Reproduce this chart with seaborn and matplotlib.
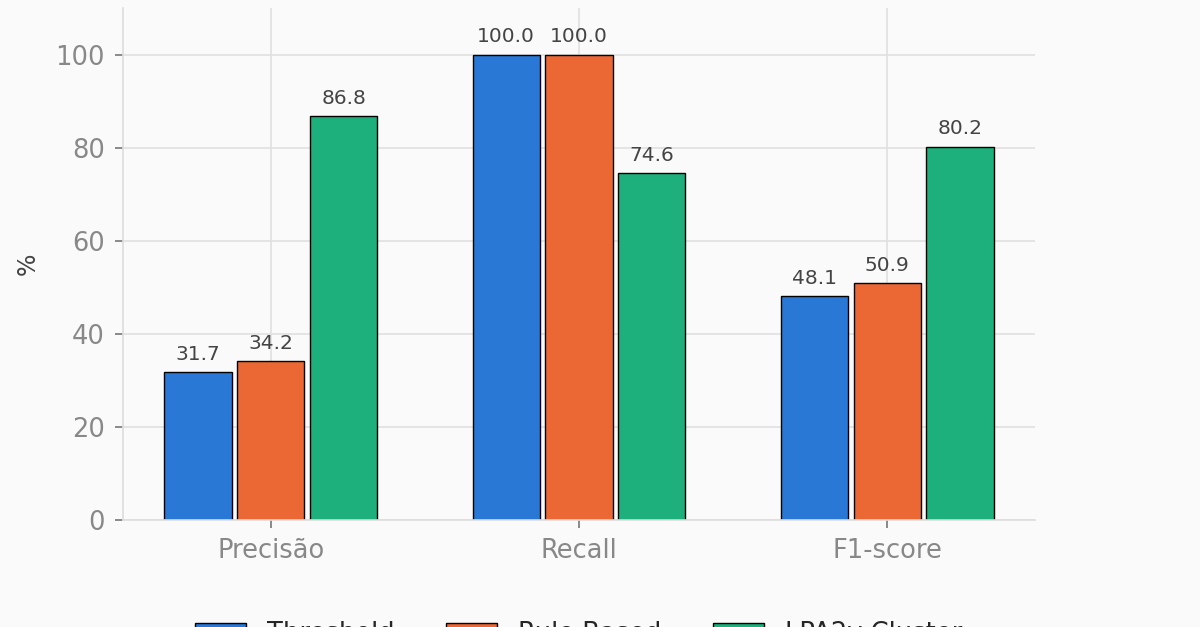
import matplotlib
matplotlib.use('Agg')
import matplotlib.pyplot as plt
import seaborn as sns
import pandas as pd

# Data
metrics = ['Precisão', 'Recall', 'F1-score']
methods = ['Threshold', 'Rule Based', 'LPA2v Cluster']
threshold = [31.7, 100.0, 48.1]
rule_based = [34.2, 100.0, 50.9]
lpa2v = [86.8, 74.6, 80.2]
colors = ['#2a78d6', '#eb6835', '#1db07c']

rows = []
for name, vals in zip(methods, [threshold, rule_based, lpa2v]):
    for m, v in zip(metrics, vals):
        rows.append({'metric': m, 'method': name, 'value': v})
df = pd.DataFrame(rows)

sns.set_style('whitegrid')
plt.rcParams['font.family'] = ['DejaVu Sans']

fig = plt.figure(figsize=(12, 6.27), dpi=100, facecolor='#fafafa')
ax = fig.add_axes([0.1025, 0.1707, 0.76, 0.8163])
ax.set_facecolor('#fafafa')

sns.barplot(data=df, x='metric', y='value', hue='method', palette=colors,
            saturation=1, edgecolor='black', linewidth=1, width=0.71, gap=0.08,
            ax=ax, legend=False)

for cont in ax.containers:
    ax.bar_label(cont, fmt='%.1f', padding=6, fontsize=14.5, color='#444444')

ax.set_xlim(-0.48, 2.48)
ax.set_ylim(0, 110)
ax.set_yticks([0, 20, 40, 60, 80, 100])
ax.set_xlabel('')
ax.set_ylabel('%', fontsize=17, color='#444444', labelpad=11)
ax.grid(True, color='#e0e0e0', linewidth=1.2)
ax.set_axisbelow(True)
for s in ['top', 'right']:
    ax.spines[s].set_visible(False)
for s in ['left', 'bottom']:
    ax.spines[s].set_color('#dddddd')
    ax.spines[s].set_linewidth(1.2)
ax.tick_params(axis='both', bottom=True, left=True, colors='#777777',
               labelsize=18.5, length=6, width=1.2, labelcolor='#888888', pad=7)

handles = [plt.Rectangle((0, 0), 1, 1, facecolor=c, edgecolor='black', linewidth=1)
           for c in colors]
fig.legend(handles, methods, loc='upper center', bbox_to_anchor=(0.482, 0.047),
           ncol=3, frameon=False, fontsize=18.5)

fig.savefig('out.png', dpi=100, facecolor=fig.get_facecolor())
